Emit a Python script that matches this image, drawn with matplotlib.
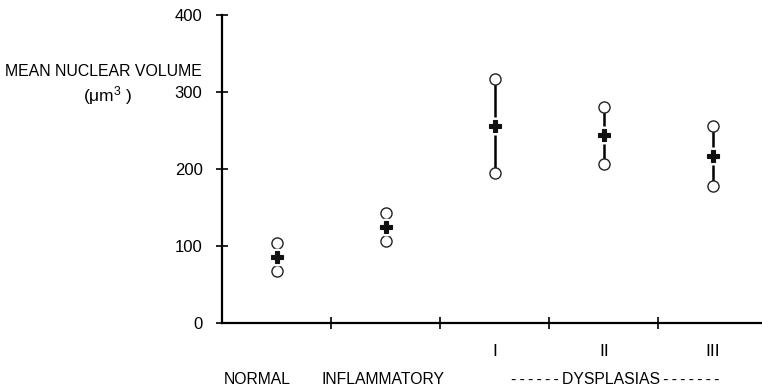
import matplotlib
matplotlib.use("Agg")
from matplotlib import pyplot as plt
from matplotlib import transforms

# data
groups = ["NORMAL", "INFLAMMATORY", "I", "II", "III"]
upper = [104, 143, 317, 281, 256]
mean = [86, 125, 256, 244, 217]
lower = [68, 106, 195, 206, 178]
joined = [False, False, True, True, True]
yticks = [0, 100, 200, 300, 400]

plt.rcParams['font.family'] = ['Liberation Sans', 'DejaVu Sans']
plt.rcParams['mathtext.fontset'] = 'custom'
plt.rcParams['mathtext.rm'] = 'Liberation Sans'

fig = plt.figure(figsize=(7.62, 3.91), dpi=100)
ax = fig.add_axes([222 / 762, 68 / 391, 540 / 762, 308 / 391])

xpos = [i + 0.5 for i in range(len(groups))]

for x, lo, hi, j in zip(xpos, lower, upper, joined):
    if j:
        ax.plot([x, x], [lo, hi], color='black', lw=1.8, zorder=1)

ax.plot(xpos, upper, 'o', ms=8, mfc='white', mec='#222222', mew=1.0,
        linestyle='none', zorder=3)
ax.plot(xpos, lower, 'o', ms=8, mfc='white', mec='#222222', mew=1.0,
        linestyle='none', zorder=3)
ax.plot(xpos, mean, 'o', ms=13, mfc='white', mec='none',
        linestyle='none', zorder=4)
ax.plot(xpos, mean, 'P', ms=8.5, mfc='#111111', mec='#111111', mew=0.8,
        linestyle='none', zorder=5)

ax.set_xlim(0, 4.95)
ax.set_ylim(0, 400)
ax.set_yticks(yticks)
ax.set_yticklabels([str(v) for v in yticks], fontsize=12)
ax.set_xticks([1, 2, 3, 4])
ax.set_xticklabels([])
ax.tick_params(axis='both', direction='inout', length=8, width=1.2, color='black')
ax.tick_params(axis='y', pad=10)
for s in ['top', 'right']:
    ax.spines[s].set_visible(False)
for s in ['left', 'bottom']:
    ax.spines[s].set_linewidth(1.6)

trans = transforms.blended_transform_factory(ax.transData, fig.transFigure)
for x, g in zip(xpos[2:], groups[2:]):
    ax.text(x, 1 - 352 / 391, g, transform=trans, ha='center', va='center',
            fontsize=12.5, clip_on=False)

fig.text(257 / 762, 1 - 379 / 391, groups[0], ha='center', va='center', fontsize=11.3)
fig.text(383 / 762, 1 - 379 / 391, groups[1], ha='center', va='center', fontsize=11.3)
dash = "-\u2009"
fig.text(617 / 762, 1 - 379 / 391, dash * 6 + "DYSPLASIAS" + "\u2009" + dash * 7,
         ha='center', va='center', fontsize=11.3)

fig.text(5 / 762, 1 - 72 / 391, "MEAN NUCLEAR VOLUME", ha='left', va='center',
         fontsize=11.4)
fig.text(108 / 762, 1 - 96 / 391, r"($\mathregular{\mu m^{3}}$ )", ha='center',
         va='center', fontsize=12.5)

fig.savefig("out.png", dpi=100, facecolor='white')
